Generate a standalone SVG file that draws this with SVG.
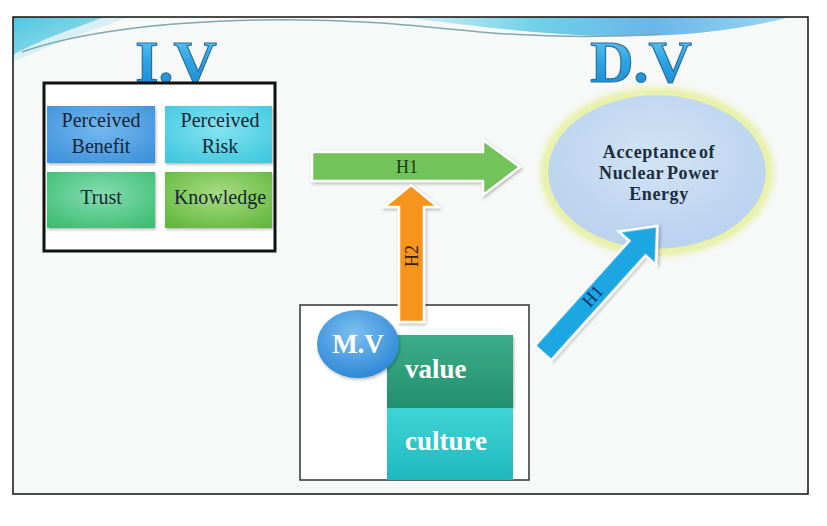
<svg xmlns="http://www.w3.org/2000/svg" width="827" height="526" viewBox="0 0 827 526">
  <defs>
    <style>
      .cell-text { font-family: "Liberation Serif", "DejaVu Serif", serif; font-size: 20px; fill: #172636; text-anchor: middle; }
      .title { font-family: "Liberation Serif", "DejaVu Serif", serif; font-size: 60px; font-weight: bold; fill: url(#titleGrad); stroke: #2c6f9c; stroke-width: 1.2; text-anchor: middle; }
      .dv-text { font-family: "Liberation Serif", "DejaVu Serif", serif; font-size: 18px; font-weight: bold; fill: #1c2d40; text-anchor: middle; letter-spacing: 0.6px; }
      .white-bold { font-family: "Liberation Serif", "DejaVu Serif", serif; font-weight: bold; fill: #ffffff; }
      .arrow { stroke: #ffffff; stroke-width: 2.5; stroke-linejoin: miter; filter: url(#shadow); }
      .hlabel { font-family: "Liberation Serif", "DejaVu Serif", serif; font-size: 18px; text-anchor: middle; }
    </style>
    <filter id="shadow" x="-20%" y="-20%" width="140%" height="140%">
      <feDropShadow dx="1" dy="1.5" stdDeviation="1.5" flood-color="#000000" flood-opacity="0.3"/>
    </filter>
    <filter id="glow" x="-20%" y="-20%" width="140%" height="140%">
      <feGaussianBlur stdDeviation="3"/>
    </filter>
    <linearGradient id="titleGrad" x1="0" y1="0" x2="0" y2="1">
      <stop offset="0" stop-color="#6fcff5"/>
      <stop offset="0.5" stop-color="#2ba3e3"/>
      <stop offset="1" stop-color="#1a86cf"/>
    </linearGradient>
    <radialGradient id="gBenefit" cx="0.5" cy="0.4" r="0.7">
      <stop offset="0" stop-color="#74b8ee"/>
      <stop offset="1" stop-color="#3f92dc"/>
    </radialGradient>
    <radialGradient id="gRisk" cx="0.5" cy="0.4" r="0.7">
      <stop offset="0" stop-color="#86e3ef"/>
      <stop offset="1" stop-color="#3fc8df"/>
    </radialGradient>
    <radialGradient id="gTrust" cx="0.5" cy="0.4" r="0.7">
      <stop offset="0" stop-color="#86ddb0"/>
      <stop offset="1" stop-color="#3dbd72"/>
    </radialGradient>
    <radialGradient id="gKnow" cx="0.5" cy="0.4" r="0.7">
      <stop offset="0" stop-color="#a8dc82"/>
      <stop offset="1" stop-color="#62b83e"/>
    </radialGradient>
    <radialGradient id="gEllipse" cx="0.5" cy="0.4" r="0.6">
      <stop offset="0" stop-color="#d2e3f5"/>
      <stop offset="1" stop-color="#b9d2ee"/>
    </radialGradient>
    <radialGradient id="gMV" cx="0.45" cy="0.35" r="0.65">
      <stop offset="0" stop-color="#7cc0f0"/>
      <stop offset="1" stop-color="#2f88d6"/>
    </radialGradient>
    <linearGradient id="gValue" x1="0" y1="0" x2="0" y2="1">
      <stop offset="0" stop-color="#3aae88"/>
      <stop offset="1" stop-color="#23906c"/>
    </linearGradient>
    <linearGradient id="gCulture" x1="0" y1="0" x2="0" y2="1">
      <stop offset="0" stop-color="#3fd4d6"/>
      <stop offset="1" stop-color="#1fb8bf"/>
    </linearGradient>
    <linearGradient id="gSwooshL" x1="0" y1="0" x2="1" y2="1">
      <stop offset="0" stop-color="#4fc6e0"/>
      <stop offset="1" stop-color="#a6e2ee"/>
    </linearGradient>
    <linearGradient id="gSwooshR" x1="0" y1="0" x2="1" y2="0">
      <stop offset="0" stop-color="#d8f2f8"/>
      <stop offset="0.35" stop-color="#6fd0e6"/>
      <stop offset="0.65" stop-color="#6ab6ea"/>
      <stop offset="1" stop-color="#9ad8f0"/>
    </linearGradient>
  </defs>

  <rect x="0" y="0" width="827" height="526" fill="#ffffff"/>

  <g id="slide">
    <rect x="13" y="17" width="795" height="477" fill="#f7f8f8"/>
    <path d="M13,17 L105,17 C 75,28 40,40 13,55 Z" fill="url(#gSwooshL)"/>
    <path d="M13,55 C 40,40 75,28 105,17 L 130,17 C 90,30 50,45 13,62 Z" fill="#cdeef5" opacity="0.8"/>
    <path d="M400,17 L790,17 C 740,30 680,38 600,36 C 530,34 460,24 400,17 Z" fill="url(#gSwooshR)"/>
    <path d="M22,52 C 80,32 160,22 260,20 C 350,18 420,26 480,32 C 540,37 600,38 660,34" fill="none" stroke="#7fa9b0" stroke-width="1.5"/>
    <rect x="13" y="17" width="795" height="477" fill="none" stroke="#111111" stroke-width="1.5"/>
  </g>

  <g id="title-iv">
    <text class="title" x="176" y="82">I.V</text>
  </g>
  <g id="title-dv">
    <text class="title" x="641" y="82">D.V</text>
  </g>

  <g id="iv-box">
    <rect x="44" y="83" width="231" height="168" fill="#ffffff" stroke="#111111" stroke-width="3"/>
    <g id="perceived-benefit">
      <rect x="47" y="106" width="108" height="57" fill="url(#gBenefit)" filter="url(#shadow)"/>
      <text class="cell-text" x="101" y="127">Perceived</text>
      <text class="cell-text" x="101" y="153">Benefit</text>
    </g>
    <g id="perceived-risk">
      <rect x="165" y="106" width="107" height="57" fill="url(#gRisk)" filter="url(#shadow)"/>
      <text class="cell-text" x="220" y="127">Perceived</text>
      <text class="cell-text" x="220" y="153">Risk</text>
    </g>
    <g id="trust">
      <rect x="47" y="172" width="108" height="56" fill="url(#gTrust)" filter="url(#shadow)"/>
      <text class="cell-text" x="101" y="204">Trust</text>
    </g>
    <g id="knowledge">
      <rect x="165" y="172" width="107" height="56" fill="url(#gKnow)" filter="url(#shadow)"/>
      <text class="cell-text" x="220" y="204">Knowledge</text>
    </g>
  </g>

  <g id="dv-node">
    <ellipse cx="657" cy="172" rx="112" ry="80" fill="none" stroke="#e4ef9a" stroke-width="8" filter="url(#glow)"/>
    <ellipse cx="657" cy="172" rx="110" ry="78" fill="url(#gEllipse)" stroke="#e9f2a8" stroke-width="2.5"/>
    <text class="dv-text" x="659" y="158" word-spacing="-3">Acceptance of</text>
    <text class="dv-text" x="659" y="179" word-spacing="-2">Nuclear Power</text>
    <text class="dv-text" x="659" y="200">Energy</text>
  </g>

  <g id="mv-box">
    <rect x="300" y="305" width="229" height="175" fill="#ffffff" stroke="#333333" stroke-width="1.5"/>
    <g id="value">
      <rect x="387" y="335" width="126" height="73" fill="url(#gValue)" filter="url(#shadow)"/>
      <text class="white-bold" x="405" y="378" font-size="27">value</text>
    </g>
    <g id="culture">
      <rect x="387" y="408" width="126" height="72" fill="url(#gCulture)"/>
      <text class="white-bold" x="405" y="450" font-size="27">culture</text>
    </g>
    <g id="mv">
      <ellipse cx="358" cy="344" rx="41" ry="34" fill="url(#gMV)" filter="url(#shadow)"/>
      <text class="white-bold" x="358" y="353" font-size="27" text-anchor="middle">M.V</text>
    </g>
  </g>

  <g id="connectors">
    <g id="arrow-h1-green">
      <path class="arrow" d="M312,152 L483,152 L483,140 L520,167 L483,195 L483,181 L312,181 Z" fill="#72c35a"/>
      <text class="hlabel" x="407" y="173" fill="#1a3a1a">H1</text>
    </g>
    <g id="arrow-h2-orange">
      <path class="arrow" d="M399,322 L399,207 L384,207 L411,185 L438,207 L424,207 L424,322 Z" fill="#f6941e"/>
      <text class="hlabel" transform="translate(418,256) rotate(-90)" fill="#3a1e05">H2</text>
    </g>
    <g id="arrow-h1-blue">
      <path class="arrow" transform="translate(543,353) rotate(-48)" d="M0,-11 L141,-11 L141,-25 L171,0 L141,25 L141,11 L0,11 Z" fill="#1ca7e2"/>
      <text class="hlabel" transform="translate(597,300) rotate(-48)" fill="#0f2d6a">H1</text>
    </g>
  </g>
</svg>
